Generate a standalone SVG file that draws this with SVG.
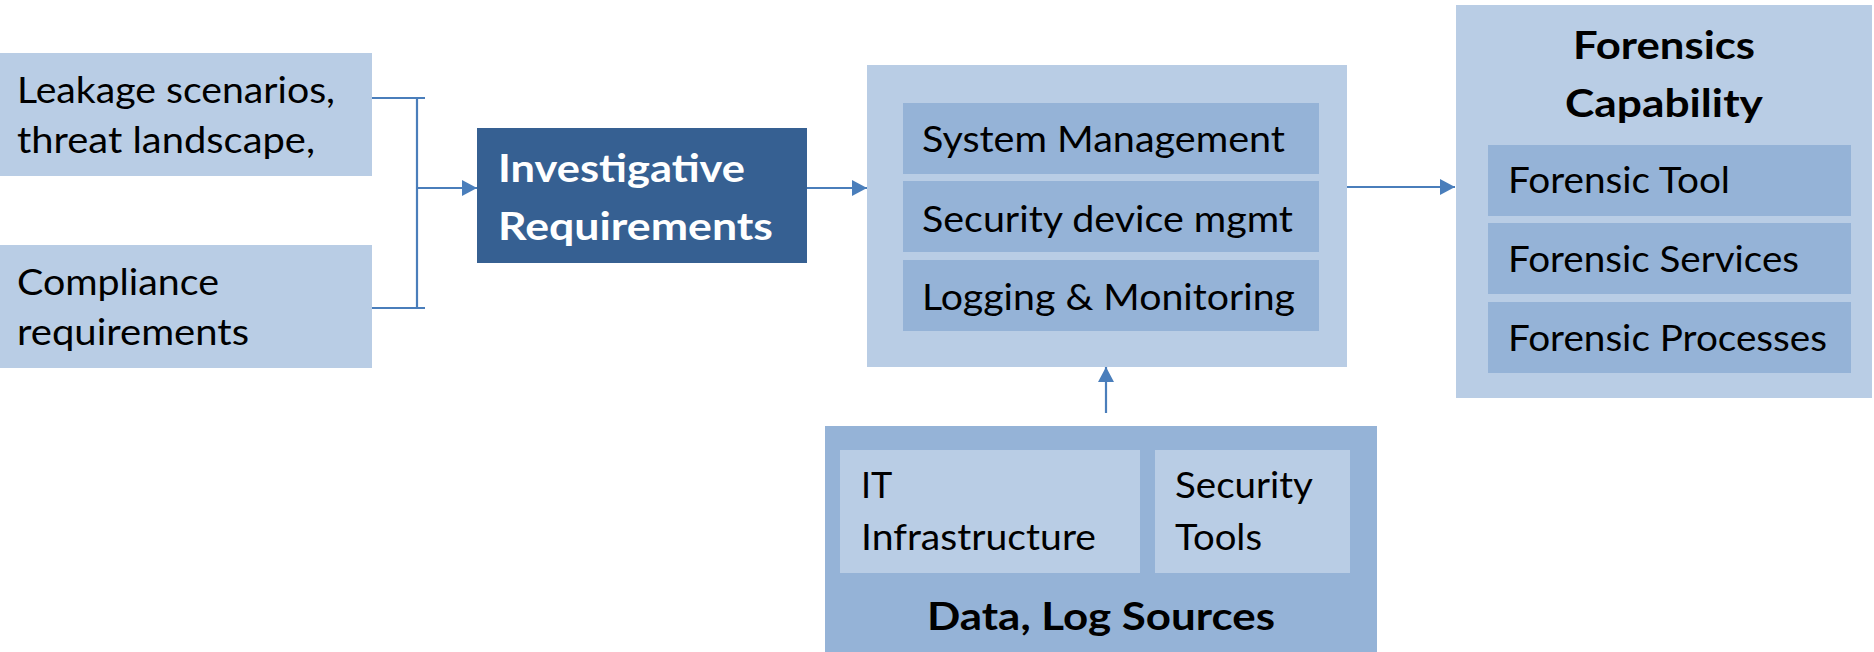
<svg xmlns="http://www.w3.org/2000/svg" width="1874" height="652" viewBox="0 0 1874 652">
  <style>
    .light { fill: #B9CDE5; }
    .mid { fill: #95B3D7; }
    .dark { fill: #366092; }
    text { font-family: Lato, "Open Sans", "Liberation Sans", sans-serif; font-size: 36px; fill: #000000; }
    .b { font-weight: bold; font-size: 39px; }
    .w { fill: #FFFFFF; }
    .link { stroke: #4A7EBB; stroke-width: 2.2; fill: none; }
  </style>
  <defs>
    <marker id="arrow" markerUnits="userSpaceOnUse" markerWidth="16" markerHeight="16" refX="15" refY="8" orient="auto">
      <path d="M0,0 L15,8 L0,16 Z" fill="#4A7EBB"/>
    </marker>
  </defs>

  <rect width="1874" height="652" fill="#FFFFFF"/>

  <g id="leakage">
    <rect class="light" x="0" y="53" width="372" height="123"/>
    <text x="17" y="103" textLength="318" lengthAdjust="spacingAndGlyphs">Leakage scenarios,</text>
    <text x="17" y="153" textLength="298" lengthAdjust="spacingAndGlyphs">threat landscape,</text>
  </g>

  <g id="compliance">
    <rect class="light" x="0" y="245" width="372" height="123"/>
    <text x="17" y="295" textLength="202" lengthAdjust="spacingAndGlyphs">Compliance</text>
    <text x="17" y="345" textLength="232" lengthAdjust="spacingAndGlyphs">requirements</text>
  </g>

  <g id="investigative">
    <rect class="dark" x="477" y="128" width="330" height="135"/>
    <text class="b w" x="498" y="182" textLength="247" lengthAdjust="spacingAndGlyphs">Investigative</text>
    <text class="b w" x="498" y="240" textLength="275" lengthAdjust="spacingAndGlyphs">Requirements</text>
  </g>

  <g id="management">
    <rect class="light" x="867" y="65" width="480" height="302"/>
    <rect class="mid" x="903" y="103" width="416" height="71"/>
    <rect class="mid" x="903" y="181" width="416" height="71"/>
    <rect class="mid" x="903" y="260" width="416" height="71"/>
    <text x="922" y="152" textLength="363" lengthAdjust="spacingAndGlyphs">System Management</text>
    <text x="922" y="232" textLength="371" lengthAdjust="spacingAndGlyphs">Security device mgmt</text>
    <text x="922" y="310" textLength="373" lengthAdjust="spacingAndGlyphs">Logging &amp; Monitoring</text>
  </g>

  <g id="forensics">
    <rect class="light" x="1456" y="5" width="416" height="393"/>
    <text class="b" x="1664" y="59" text-anchor="middle" textLength="182" lengthAdjust="spacingAndGlyphs">Forensics</text>
    <text class="b" x="1664" y="117" text-anchor="middle" textLength="198" lengthAdjust="spacingAndGlyphs">Capability</text>
    <rect class="mid" x="1488" y="145" width="363" height="71"/>
    <rect class="mid" x="1488" y="223" width="363" height="71"/>
    <rect class="mid" x="1488" y="302" width="363" height="71"/>
    <text x="1508" y="193" textLength="222" lengthAdjust="spacingAndGlyphs">Forensic Tool</text>
    <text x="1508" y="272" textLength="291" lengthAdjust="spacingAndGlyphs">Forensic Services</text>
    <text x="1508" y="351" textLength="319" lengthAdjust="spacingAndGlyphs">Forensic Processes</text>
  </g>

  <g id="sources">
    <rect class="mid" x="825" y="426" width="552" height="226"/>
    <rect class="light" x="840" y="450" width="300" height="123"/>
    <rect class="light" x="1155" y="450" width="195" height="123"/>
    <text x="861" y="498">IT</text>
    <text x="861" y="550" textLength="235" lengthAdjust="spacingAndGlyphs">Infrastructure</text>
    <text x="1175" y="498" textLength="138" lengthAdjust="spacingAndGlyphs">Security</text>
    <text x="1175" y="550" textLength="87" lengthAdjust="spacingAndGlyphs">Tools</text>
    <text class="b" x="927" y="630" textLength="348" lengthAdjust="spacingAndGlyphs">Data, Log Sources</text>
  </g>

  <g id="connectors">
    <path class="link" d="M372,98 H425 M417,98 V308 M372,308 H425"/>
    <line class="link" x1="417" y1="188" x2="477" y2="188" marker-end="url(#arrow)"/>
    <line class="link" x1="807" y1="188" x2="867" y2="188" marker-end="url(#arrow)"/>
    <line class="link" x1="1347" y1="187" x2="1455" y2="187" marker-end="url(#arrow)"/>
    <line class="link" x1="1106" y1="413" x2="1106" y2="367" marker-end="url(#arrow)"/>
  </g>
</svg>
